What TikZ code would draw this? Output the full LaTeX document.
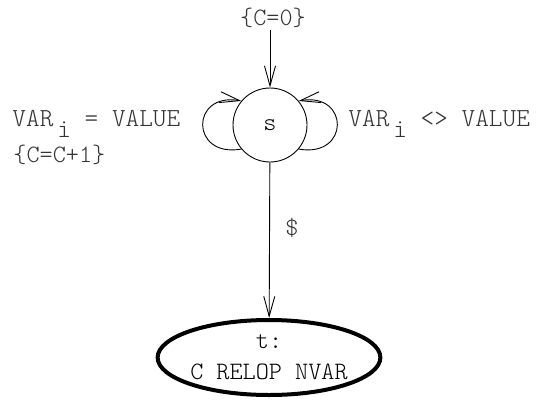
\documentclass[tikz,border=0pt]{standalone}
\usepackage{fontspec}
\setmonofont{Latin Modern Mono Light}
\usetikzlibrary{arrows.meta,positioning,shapes.geometric}

\begin{document}
\begin{tikzpicture}[x=1pt,y=1pt,line width=0.9pt,
  font=\ttfamily\fontsize{25}{28}\selectfont,
  state/.style={draw,circle,minimum size=74pt,inner sep=0pt},
  final/.style={draw,ellipse,line width=4pt,minimum width=216pt,minimum height=75pt,
    inner sep=0pt,align=center},
  trans/.style={-{Straight Barb[length=20pt,width=11pt]}},
  lbl/.style={inner sep=0pt,anchor=base west,text=black!80},
]
  \useasboundingbox (0,0) rectangle (537,-399);

  % states
  \node[state] (s) at (270,-125) {s};
  \node[final] (t) at (269,-357.5) {t:\\[3pt]C RELOP NVAR};

  % initial arrow
  \coordinate (init) at (270,-30);
  \node[inner sep=0pt,anchor=base,text=black!80] (cinit) at (273,-25) {\{C=0\}};
  \draw[trans] (init) -- (s);

  % self loops
  \draw[trans] (s.-140) to[out=190,in=170,distance=52pt] (s.140);
  \draw[trans] (s.-40) to[out=-10,in=10,distance=52pt] (s.40);
  \node[lbl,font=\ttfamily\fontsize{26}{28}\selectfont] (eqlbl) at (12,-126)
    {VAR\hspace{4pt}\raisebox{-11pt}{i} = VALUE};
  \node[lbl] (inclbl) at (13,-162) {\{C=C+1\}};
  \node[lbl,font=\ttfamily\fontsize{26}{28}\selectfont] (nelbl) at (348,-126)
    {VAR\hspace{4pt}\raisebox{-11pt}{i} <> VALUE};

  % end transition
  \draw[trans] (s) -- node[pos=0.42,right=12pt,text=black!80] (dollar) {\$} (t);
\end{tikzpicture}
\end{document}
